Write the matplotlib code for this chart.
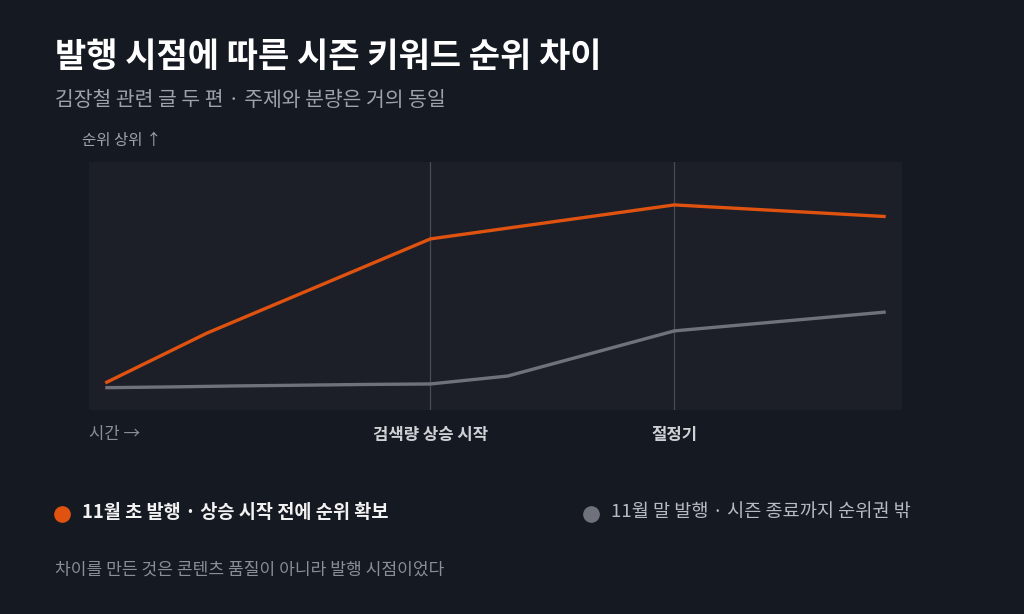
import matplotlib
matplotlib.use("Agg")
import matplotlib.pyplot as plt
from matplotlib.lines import Line2D

plt.rcParams['font.family'] = ['Noto Sans CJK KR', 'DejaVu Sans']

# data (relative rank position, higher = better)
early_x = [2, 14.5, 42, 72, 98]
early_y = [10.9, 31, 69, 82.7, 78]
late_x = [2, 10, 18, 34, 42, 51.5, 72, 98]
late_y = [9, 9.3, 9.7, 10.3, 10.5, 13.7, 31.9, 39.5]
marker_x = [42, 72]
marker_labels = ['검색량 상승 시작', '절정기']

title = '발행 시점에 따른 시즌 키워드 순위 차이'
subtitle = '김장철 관련 글 두 편 · 주제와 분량은 거의 동일'
early_label = '11월 초 발행 · 상승 시작 전에 순위 확보'
late_label = '11월 말 발행 · 시즌 종료까지 순위권 밖'
note = '차이를 만든 것은 콘텐츠 품질이 아니라 발행 시점이었다'

BG = '#151921'
PANEL = '#1c1f27'
ORANGE = '#e0520f'
GRAY = '#6f727c'

W, H = 1024, 614
fig = plt.figure(figsize=(W / 100, H / 100), dpi=100, facecolor=BG)

def fx(px):
    return px / W

def fy(py):
    return 1 - py / H

ax = fig.add_axes([fx(89), fy(410), fx(902) - fx(89), fy(162) - fy(410)])
ax.set_facecolor(PANEL)
for s in ax.spines.values():
    s.set_visible(False)
ax.set_xticks([])
ax.set_yticks([])
ax.set_xlim(0, 100)
ax.set_ylim(0, 100)

for mx in marker_x:
    ax.axvline(mx, color='#474b54', lw=0.9, zorder=1)

ax.plot(late_x, late_y, color=GRAY, lw=2.4, solid_capstyle='butt', zorder=2)
ax.plot(early_x, early_y, color=ORANGE, lw=2.4, solid_capstyle='butt', zorder=3)

for mx, lab in zip(marker_x, marker_labels):
    ax.annotate(lab, xy=(mx, 0), xycoords='data', xytext=(0, -18),
                textcoords='offset points', ha='center', va='center',
                fontsize=12, fontweight='semibold', color='#cfd1d5')

fig.text(fx(55), fy(57), title, fontsize=24.5, fontweight='bold', color='#ffffff', va='center')
fig.text(fx(55), fy(101), subtitle, fontsize=14.7, color='#9ea2aa', va='center')
fig.text(fx(82), fy(141), '순위 상위 ↑', fontsize=11.2, color='#9ea2aa', va='center')
fig.text(fx(89), fy(434), '시간 →', fontsize=12, color='#8a8e96', va='center')

fig.add_artist(Line2D([fx(62)], [fy(514)], marker='o', markersize=11, color=ORANGE,
                      transform=fig.transFigure, linestyle='none'))
fig.text(fx(82), fy(512), early_label, fontsize=13.4, fontweight='semibold', color='#f2f2f2', va='center')
fig.add_artist(Line2D([fx(591)], [fy(514)], marker='o', markersize=11, color=GRAY,
                      transform=fig.transFigure, linestyle='none'))
fig.text(fx(611), fy(512), late_label, fontsize=13.4, color='#b8bbc1', va='center')

fig.text(fx(55), fy(570), note, fontsize=12.3, color='#8a8e96', va='center')

fig.savefig('out.png', dpi=100, facecolor=BG)
